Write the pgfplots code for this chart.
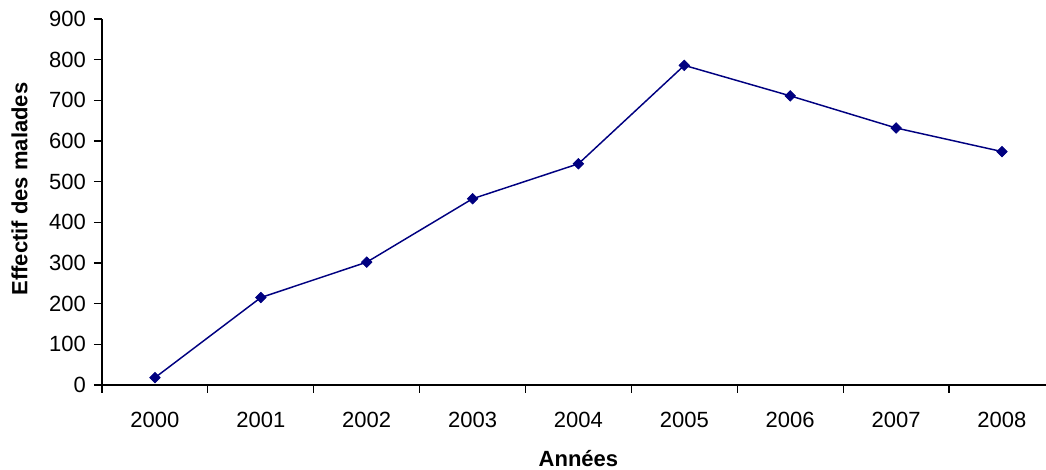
\documentclass[border=0pt]{standalone}
\usepackage{pgfplots}
\pgfplotsset{compat=1.18}
\usepackage{fontspec}
\setmainfont{Liberation Sans}
\definecolor{linecol}{RGB}{0,0,128}
\begin{document}
\begin{tikzpicture}
\path[use as bounding box] (-76.5pt,-63.75pt) rectangle (708pt,288.75pt);
\begin{axis}[
  at={(0,0)}, anchor=south west,
  scale only axis, width=708pt, height=274.5pt,
  xmin=-0.5, xmax=8.416, ymin=0, ymax=900,
  clip=false,
  axis x line=bottom, axis y line=left,
  axis line style={-, line width=0.9pt, black},
  xtick={0,...,8},
  xticklabels={2000,2001,2002,2003,2004,2005,2006,2007,2008},
  minor xtick={-0.5,0.5,1.5,2.5,3.5,4.5,5.5,6.5,7.5},
  major x tick style={draw=none},
  minor tick length=6pt,
  ytick={0,100,...,900},
  major tick length=6pt,
  tick align=outside,
  tick style={line width=0.9pt, black},
  /pgf/number format/assume math mode=true,
  ticklabel style={font=\fontsize{16.5}{18}\selectfont},
  xticklabel style={anchor=center, yshift=-19.9pt},
  yticklabel style={anchor=east, xshift=-2.5pt},
  xlabel={\bfseries Années},
  ylabel={\bfseries Effectif des malades},
  label style={font=\fontsize{16.5}{18}\selectfont},
  xlabel style={at={(axis cs:4,0)}, anchor=center, yshift=-55pt},
  ylabel style={at={(axis description cs:0,0.5)}, anchor=center, yshift=61.9pt, xshift=9.75pt},
]
\addplot[color=linecol, line width=1.1pt, mark=square*, mark size=2.8pt, mark options={rotate=45, fill=linecol, draw=linecol, line width=0.5pt}]
coordinates {(0,18) (1,215) (2,302) (3,458) (4,544) (5,786) (6,711) (7,632) (8,574)};
\end{axis}
\end{tikzpicture}
\end{document}
